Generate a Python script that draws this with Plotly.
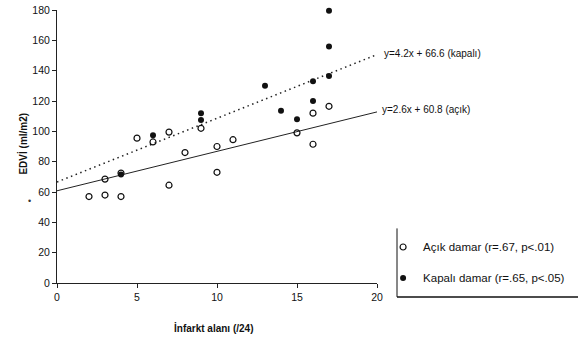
import plotly.graph_objects as go

# ---- data ----
acik_x = [2, 3, 4, 3, 4, 5, 6, 7, 7, 8, 9, 10, 10, 11, 15, 16, 16, 17]
acik_y = [57, 58, 57, 68.5, 72.5, 95.5, 93, 99.5, 64.5, 86, 102, 90, 73, 94.5, 99, 112, 91.5, 116.5]
kapali_x = [4, 6, 9, 9, 13, 14, 15, 16, 16, 17, 17, 17]
kapali_y = [71.5, 97.5, 112, 107.5, 130, 113.5, 108, 133, 120, 179.5, 156, 136.5]

# regression lines (slope, intercept) as printed on the chart
acik_fit = [2.6, 60.8]
kapali_fit = [4.2, 66.6]
fit_x = [0, 20]

x_ticks = [0, 5, 10, 15, 20]
y_ticks = [0, 20, 40, 60, 80, 100, 120, 140, 160, 180]

acik_label = "y=2.6x + 60.8 (açık)"
kapali_label = "y=4.2x + 66.6 (kapalı)"
acik_name = "Açık damar (r=.67, p<.01)"
kapali_name = "Kapalı damar (r=.65, p<.05)"

FONT = "Liberation Sans, Arial, sans-serif"

fig = go.Figure()

fig.add_trace(go.Scatter(
    x=fit_x, y=[kapali_fit[0] * v + kapali_fit[1] for v in fit_x],
    mode="lines", line=dict(color="#222", width=1.5, dash="1.5px,3.5px"),
    showlegend=False, hoverinfo="skip"))
fig.add_trace(go.Scatter(
    x=fit_x, y=[acik_fit[0] * v + acik_fit[1] for v in fit_x],
    mode="lines", line=dict(color="#222", width=1),
    showlegend=False, hoverinfo="skip"))

fig.add_trace(go.Scatter(
    x=acik_x, y=acik_y, mode="markers", name=acik_name, cliponaxis=False,
    marker=dict(symbol="circle-open", size=6, color="#111", line=dict(width=1.2)),
    legendgroup="a"))
fig.add_trace(go.Scatter(
    x=kapali_x, y=kapali_y, mode="markers", name=kapali_name, cliponaxis=False,
    marker=dict(symbol="circle", size=6, color="#111"),
    legendgroup="b"))

# equation labels at the ends of the fit lines (paper coords, right of the plot)
fig.add_annotation(x=1.016, y=0.842, xref="paper", yref="paper", text=kapali_label,
                   showarrow=False, xanchor="left", yanchor="middle",
                   font=dict(family=FONT, size=10, color="#111"))
fig.add_annotation(x=1.01, y=0.634, xref="paper", yref="paper", text=acik_label,
                   showarrow=False, xanchor="left", yanchor="middle",
                   font=dict(family=FONT, size=10, color="#111"))

# axis titles
fig.add_annotation(x=-0.131, y=92, xref="paper", yref="y", text="<b>EDVİ (ml/m2)</b>",
                   textangle=-90, showarrow=False,
                   font=dict(family=FONT, size=10, color="#111"))
fig.add_annotation(x=9.8, y=-0.165, xref="x", yref="paper", text="<b>İnfarkt alanı (/24)</b>",
                   showarrow=False, yanchor="middle",
                   font=dict(family=FONT, size=10, color="#111"))
# stray mark left of the axis
fig.add_annotation(x=-0.097, y=0.275, xref="paper", yref="paper", text="•", showarrow=False,
                   font=dict(family=FONT, size=9, color="#333"))

# legend frame (left and bottom edges visible)
fig.add_shape(type="line", xref="paper", yref="paper", x0=1.0625, x1=1.0625, y0=0.2, y1=-0.051,
              line=dict(color="#111", width=1))
fig.add_shape(type="line", xref="paper", yref="paper", x0=1.0625, x1=1.63, y0=-0.051, y1=-0.051,
              line=dict(color="#111", width=1.5))

fig.update_layout(
    width=578, height=339,
    margin=dict(l=57, r=201, t=10, b=56, autoexpand=False),
    paper_bgcolor="white", plot_bgcolor="white",
    font=dict(family=FONT, size=10, color="#111"),
    showlegend=True,
    legend=dict(x=1.019, y=0.185, xanchor="left", yanchor="top",
                bgcolor="rgba(0,0,0,0)", borderwidth=0,
                traceorder="grouped", tracegroupgap=12,
                font=dict(family=FONT, size=11.5, color="#111"),
                itemwidth=30),
    xaxis=dict(range=[0, 20], tickvals=x_ticks, showgrid=False, zeroline=False,
               showline=True, linecolor="#222", linewidth=1,
               ticks="outside", ticklen=4, tickcolor="#222",
               tickfont=dict(family=FONT, size=10.5, color="#111")),
    yaxis=dict(range=[0, 180], tickvals=y_ticks, showgrid=False, zeroline=False,
               showline=True, linecolor="#222", linewidth=1,
               ticks="outside", ticklen=4, tickcolor="#222",
               tickfont=dict(family=FONT, size=10.5, color="#111")),
)

fig.write_html("out.html", config={"displayModeBar": False},
               post_script="document.body.style.margin='0';document.body.style.overflow='hidden';")
